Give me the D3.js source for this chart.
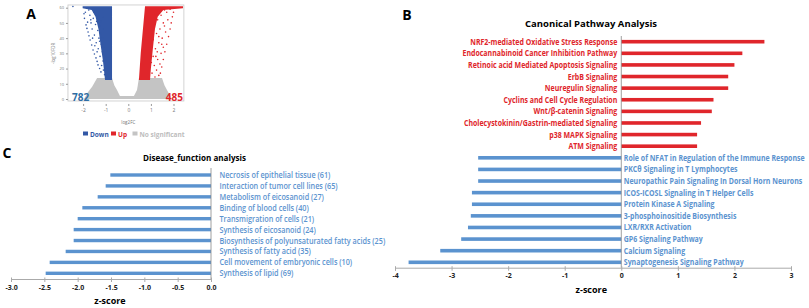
<!DOCTYPE html>
<html><head><meta charset="utf-8">
<script src="https://cdn.jsdelivr.net/npm/d3@7"></script>
<style>body{margin:0;background:#fff}svg{display:block}text{font-family:"Open Sans",sans-serif}</style>
</head><body>
<svg id="c" width="809" height="308"></svg>
<script>
// ---------- Panel A data (volcano, log2FC vs -log10 FDR) ----------
const volcXTicks = [-2, -1, 0, 1, 2];
const volcYTicks = [0, 10, 20, 30, 40, 50, 60];
const downCount = "782", upCount = "485";
const legendItems = ["Down", "Up", "No significant"];
const grayRegion = [[-1.38,13.8],[-1.6,8],[-1.78,4.6],[-1.96,0],[1.93,0],[1.76,4.6],[1.6,9],[1.49,13.8],[0.47,13.8],[0.42,9],[0.385,5.9],[0.25,2.0],[-0.37,2.0],[-0.5,5.9],[-0.62,9],[-0.72,13.8]];
const blueRegion = [[-2.02,61],[-0.72,61],[-0.72,12.5],[-1.03,12.5],[-1.12,25],[-1.22,35],[-1.32,46],[-1.45,54],[-1.62,58.5],[-2.02,59.6]];
const redRegion = [[0.74,61],[2.42,61],[2.42,59.6],[1.55,58.5],[1.3,54],[1.18,46],[1.08,32],[1.0,20],[0.96,12.5],[0.47,12.5],[0.55,30],[0.66,48]];
const blueDots = [[-2.45,60.8],[-1.87,48.7],[-1.83,46.4],[-1.78,44],[-1.74,41.5],[-1.69,38.8],[-1.62,35.5],[-1.56,32.2],[-1.5,29.6],[-1.43,27],[-1.38,24.7],[-1.34,22.4],[-1.27,20],[-1.21,17.8],[-1.96,56],[-1.94,53],[-1.9,57],[-1.7,55],[-1.55,53],[-1.8,50.5],[-1.45,49],[-1.6,46],[-1.35,45],[-1.5,42],[-1.3,40],[-1.42,37],[-1.2,36],[-1.33,33],[-1.15,31],[-1.25,28],[-1.12,25],[-1.18,22],[-1.1,19],[-1.05,16],[-1.65,50],[-1.75,58.5],[-1.52,57],[-1.4,51],[-1.28,48],[-1.38,31],[-1.27,38],[-1.22,43],[-1.15,40],[-1.09,34],[-1.06,28],[-1.1,46],[-1.2,51],[-1.3,55],[-1.58,40],[-1.48,35],[-1.66,52],[-1.12,54]];
const redDots = [[1.95,54],[1.9,50],[1.85,46],[1.78,41],[1.7,36],[1.62,31],[1.55,26],[1.48,21],[1.42,17],[1.2,56],[1.45,55],[1.7,57],[1.3,52],[1.55,50],[1.15,48],[1.4,46],[1.65,44],[1.25,43],[1.5,40],[1.1,39],[1.35,37],[1.55,34],[1.2,33],[1.45,30],[1.1,28],[1.3,26],[1.4,23],[1.15,22],[1.25,19],[1.05,17],[1.35,15.5],[1.08,45],[1.6,58.5],[1.85,59],[1.12,55],[1.75,52],[1.35,41],[1.02,24],[1.18,14.5],[1.28,31],[1.6,48],[1.48,36],[2.0,57],[1.05,36],[1.22,28]];

// ---------- Panel B data (canonical pathways, z-score) ----------
const pathways = ["NRF2-mediated Oxidative Stress Response","Endocannabinoid Cancer Inhibition Pathway","Retinoic acid Mediated Apoptosis Signaling","ErbB Signaling","Neuregulin Signaling","Cyclins and Cell Cycle Regulation","Wnt/β-catenin Signaling","Cholecystokinin/Gastrin-mediated Signaling","p38 MAPK Signaling","ATM Signaling","Role of NFAT in Regulation of the Immune Response","PKCθ Signaling in T Lymphocytes","Neuropathic Pain Signaling In Dorsal Horn Neurons","ICOS-ICOSL Signaling in T Helper Cells","Protein Kinase A Signaling","3-phosphoinositide Biosynthesis","LXR/RXR Activation","GP6 Signaling Pathway","Calcium Signaling","Synaptogenesis Signaling Pathway"];
const pathwayZ = [2.53,2.14,2.0,1.89,1.89,1.63,1.6,1.41,1.34,1.34,-2.53,-2.53,-2.53,-2.64,-2.64,-2.66,-2.71,-2.83,-3.2,-3.76];
const bTicks = [-4,-3,-2,-1,0,1,2,3];

// ---------- Panel C data (disease/function, z-score) ----------
const functions = ["Necrosis of epithelial tissue (61)","Interaction of tumor cell lines (65)","Metabolism of eicosanoid (27)","Binding of blood cells (40)","Transmigration of cells (21)","Synthesis of eicosanoid (24)","Biosynthesis of polyunsaturated fatty acids (25)","Synthesis of fatty acid (35)","Cell movement of embryonic cells (10)","Synthesis of lipid (69)"];
const functionZ = [-1.51,-1.58,-1.70,-1.93,-2.00,-2.06,-2.06,-2.18,-2.42,-2.48];
const cTicks = [-3.0,-2.5,-2.0,-1.5,-1.0,-0.5,0.0];

const RED = "#e0262b", BLUE = "#5b93cf", DBLUE = "#3358a6", GRAY = "#c4c4c4";
const svg = d3.select("#c");
const hy = f => d => f(d).replace("\u2212", "-");

// helper: narrow (Calibri-like) labels via horizontal compression fitted to a reference width
function fitLabels(sel, refText, targetW) {
  let w = 0;
  sel.each(function(d){ if (d === refText) w = this.getComputedTextLength(); });
  const k = w ? targetW / w : 1;
  sel.each(function(){
    const t = d3.select(this), x = +t.attr("x"), y = +t.attr("y");
    t.attr("x", 0).attr("y", 0).attr("transform", `translate(${x},${y}) scale(${k},1)`);
  });
}

// panel letters
[["A",31,19],["B",407,20],["C",7,158]].forEach(([t,x,y]) =>
  svg.append("text").attr("x",x).attr("y",y).attr("text-anchor","middle")
    .attr("font-size",14).attr("font-weight",700).text(t));

// ---------- Panel A ----------
{
  const x = d3.scaleLinear().domain([-2,2]).range([83.1,173.5]);
  const y = d3.scaleLinear().domain([0,60]).range([99,7.7]);
  const g = svg.append("g");
  g.append("rect").attr("x",x(-2.67)).attr("y",y(61.8)).attr("width",x(2.46)-x(-2.67))
    .attr("height",y(-1.3)-y(61.8)).attr("fill","none").attr("stroke","#c8c8c8").attr("stroke-width",0.8);
  const line = d3.line().x(d=>x(d[0])).y(d=>y(d[1])).curve(d3.curveLinearClosed);
  g.append("path").attr("d",line(grayRegion)).attr("fill",GRAY);
  g.append("path").attr("d",line(blueRegion)).attr("fill",DBLUE);
  g.append("path").attr("d",line(redRegion)).attr("fill",RED);
  g.selectAll(".bd").data(blueDots).join("circle").attr("cx",d=>x(d[0])).attr("cy",d=>y(d[1])).attr("r",0.8).attr("fill",DBLUE);
  g.selectAll(".rd").data(redDots).join("circle").attr("cx",d=>x(d[0])).attr("cy",d=>y(d[1])).attr("r",0.8).attr("fill",RED);
  const ya = d3.axisLeft(y).tickValues(volcYTicks).tickSize(2).tickPadding(2).tickFormat(d3.format("d"));
  g.append("g").attr("transform",`translate(${x(-2.67)},0)`).call(ya)
    .call(s=>{s.select(".domain").remove();s.selectAll("line").attr("stroke","#999");s.selectAll("text").attr("font-size",4).attr("fill","#777");});
  const xa = d3.axisBottom(x).tickValues(volcXTicks).tickSize(2).tickPadding(2).tickFormat(hy(d3.format("d")));
  g.append("g").attr("transform",`translate(0,${y(-1.3)+3})`).call(xa)
    .call(s=>{s.select(".domain").remove();s.selectAll("line").attr("stroke","#999");s.selectAll("text").attr("font-size",5).attr("fill","#777");});
  g.append("text").attr("x",x(0)).attr("y",124).attr("text-anchor","middle").attr("font-size",4.5).attr("fill","#777").text("log2FC");
  g.append("text").attr("transform",`translate(55,${y(30)}) rotate(-90)`).attr("text-anchor","middle").attr("font-size",4.5).attr("fill","#777").text("-log10FDR");
  g.append("text").attr("x",72).attr("y",101).attr("font-size",10).attr("font-weight",700).attr("fill","#2e6da4").text(downCount);
  g.append("text").attr("x",183).attr("y",101).attr("text-anchor","end").attr("font-size",10).attr("font-weight",700).attr("fill",RED).text(upCount);
  const lg = [[83,DBLUE,legendItems[0],DBLUE],[111,RED,legendItems[1],RED],[132.5,GRAY,legendItems[2],"#bdbdbd"]];
  lg.forEach(([lx,c,t,tc])=>{
    g.append("rect").attr("x",lx).attr("y",131.5).attr("width",5).attr("height",4).attr("fill",c);
    g.append("text").attr("x",lx+7).attr("y",136.5).attr("font-size",6.5).attr("font-weight",700).attr("fill",tc).text(t);
  });
}

// ---------- Panel B ----------
{
  const x = d3.scaleLinear().domain([-4,3]).range([395,791]);
  const y = d3.scalePoint().domain(pathways).range([41.7,262.3]);
  const g = svg.append("g");
  g.append("text").attr("x",591).attr("y",27).attr("text-anchor","middle").attr("font-size",9.5).attr("font-weight",700).text("Canonical Pathway Analysis");
  g.selectAll("rect.b").data(pathways).join("rect")
    .attr("x",(d,i)=>x(Math.min(0,pathwayZ[i]))).attr("y",d=>y(d)-1.8)
    .attr("width",(d,i)=>Math.abs(x(pathwayZ[i])-x(0))).attr("height",3.6)
    .attr("fill",(d,i)=>pathwayZ[i]>0?RED:BLUE);
  const lbl = g.selectAll("text.l").data(pathways).join("text")
    .attr("x",(d,i)=>pathwayZ[i]>0?x(0)-4:x(0)+2.5).attr("y",d=>y(d)+3)
    .attr("text-anchor",(d,i)=>pathwayZ[i]>0?"end":"start")
    .attr("font-size",8.6).attr("font-weight",700)
    .attr("fill",(d,i)=>pathwayZ[i]>0?RED:BLUE).text(d=>d);
  fitLabels(lbl, "Role of NFAT in Regulation of the Immune Response", 181);
  g.append("line").attr("x1",x(0)).attr("x2",x(0)).attr("y1",36).attr("y2",267.7).attr("stroke","#888").attr("stroke-width",0.8);
  const xa = d3.axisBottom(x).tickValues(bTicks).tickSize(3).tickPadding(2).tickFormat(hy(d3.format("d")));
  g.append("g").attr("transform","translate(0,267.7)").call(xa)
    .call(s=>{s.select(".domain").attr("stroke","#aaa");s.selectAll("line").attr("stroke","#aaa").attr("y1",-1.5);s.selectAll("text").attr("font-size",7).attr("font-weight",700).attr("fill","#222");});
  g.append("text").attr("x",x(0)-30).attr("y",293).attr("text-anchor","middle").attr("font-size",9).attr("font-weight",700).text("z-score");
}

// ---------- Panel C ----------
{
  const x = d3.scaleLinear().domain([-3,0]).range([11,211]);
  const y = d3.scalePoint().domain(functions).range([175,273.3]);
  const g = svg.append("g");
  g.append("text").attr("x",194.5).attr("y",161).attr("text-anchor","middle").attr("font-size",9).attr("font-weight",700)
    .attr("textLength",103).attr("lengthAdjust","spacingAndGlyphs").text("Disease_function analysis");
  g.selectAll("rect.c").data(functions).join("rect")
    .attr("x",(d,i)=>x(functionZ[i])).attr("y",d=>y(d)-1.7)
    .attr("width",(d,i)=>x(0)-x(functionZ[i])).attr("height",3.4).attr("fill",BLUE);
  const lbl = g.selectAll("text.l").data(functions).join("text")
    .attr("x",x(0)+8.5).attr("y",d=>y(d)+3)
    .attr("font-size",8.3).attr("font-weight",600).attr("fill",BLUE).text(d=>d);
  fitLabels(lbl, "Biosynthesis of polyunsaturated fatty acids (25)", 166);
  g.append("line").attr("x1",x(0)).attr("x2",x(0)).attr("y1",168).attr("y2",279).attr("stroke","#888").attr("stroke-width",0.8);
  const xa = d3.axisBottom(x).tickValues(cTicks).tickSize(3).tickPadding(3).tickFormat(hy(d3.format(".1f")));
  g.append("g").attr("transform","translate(0,279)").call(xa)
    .call(s=>{s.select(".domain").attr("stroke","#aaa");s.selectAll("line").attr("stroke","#aaa").attr("y1",-1.5);s.selectAll("text").attr("font-size",7).attr("font-weight",700).attr("fill","#222");});
  g.append("text").attr("x",110).attr("y",304).attr("text-anchor","middle").attr("font-size",9).attr("font-weight",700).text("z-score");
}
</script>
</body></html>
